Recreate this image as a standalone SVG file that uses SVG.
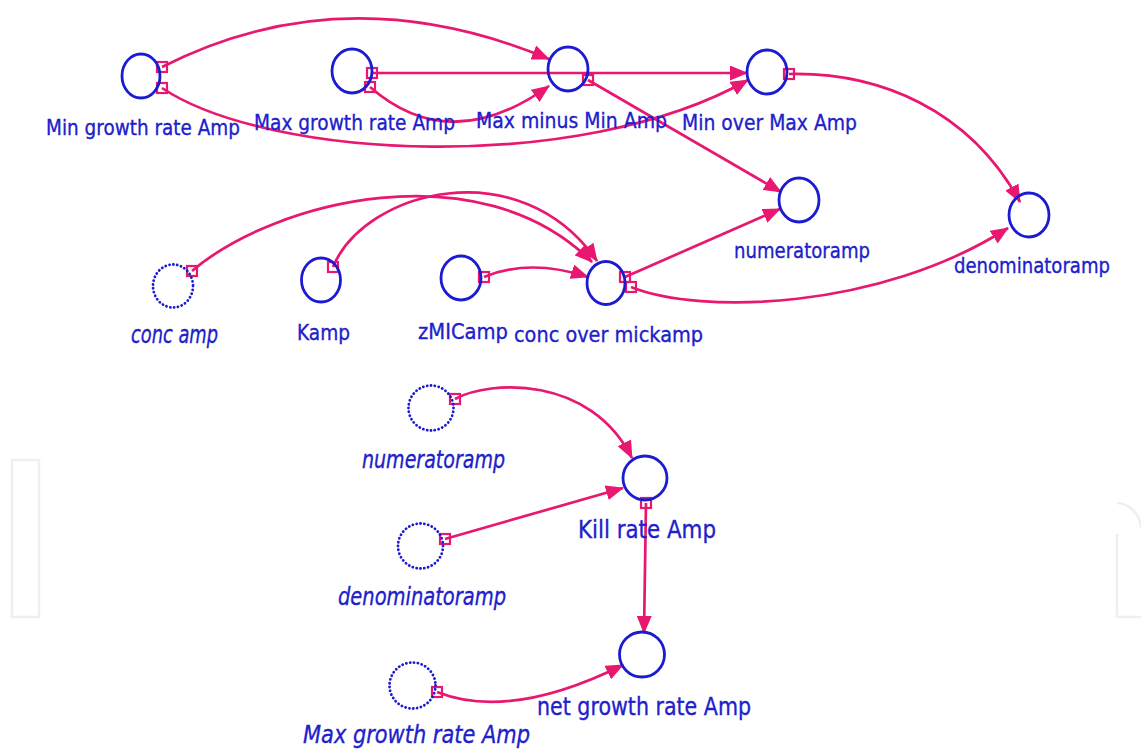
<svg xmlns="http://www.w3.org/2000/svg" width="1141" height="749" viewBox="0 0 1141 749">
<style>
.n{fill:none;stroke:#1b1bd2;stroke-width:2.8}
.g{fill:none;stroke:#1b1bd2;stroke-width:2.8;stroke-dasharray:0.1 3.8;stroke-linecap:round}
.lbl{font-family:"DejaVu Sans","Liberation Sans",sans-serif;fill:#2020cc;stroke:#2020cc;stroke-width:0.35;font-size:22px}
.big{font-size:24px}
.it{font-style:italic;font-size:24px}
.sm{font-size:20.5px}
.c{fill:none;stroke:#e8176f;stroke-width:2.7;marker-end:url(#ah)}
.sq{fill:none;stroke:#e8176f;stroke-width:2.2}
.wm{fill:none;stroke:#efefef;stroke-width:2.5}
</style>
<defs>
<marker id="ah" markerUnits="userSpaceOnUse" markerWidth="18" markerHeight="15" refX="17" refY="7.5" orient="auto">
<path d="M0,0 L18,7.5 L0,15 z" fill="#e8176f"/>
</marker>
</defs>
<rect width="1141" height="749" fill="#ffffff"/>
<g id="watermark">
<rect class="wm" x="12" y="460" width="27" height="157"/>
<path class="wm" d="M1117,503 A26,26 0 0 1 1141,528"/>
<path class="wm" d="M1117,534 V617 H1141"/>
</g>
<g id="connectors">
<path class="c" d="M162,67 Q345,-26 549,59"/>
<path class="c" d="M162,88 C270,160 580,175 748,80"/>
<path class="c" d="M372,73 L747,73"/>
<path class="c" d="M370,87 Q450,157 549,86"/>
<path class="c" d="M588,80 L781,192"/>
<path class="c" d="M789,74 C880,72 970,110 1020,202"/>
<path class="c" d="M192,271 C275,200 480,150 592,262"/>
<path class="c" d="M333,267 C365,190 520,150 597,261"/>
<path class="c" d="M484,277 Q530,258 588,277"/>
<path class="c" d="M625,277 L780,209"/>
<path class="c" d="M631,287 C700,315 880,310 1008,228"/>
<path class="c" d="M455,399 C490,380 590,375 632,458"/>
<path class="c" d="M445,539 L623,488"/>
<path class="c" d="M646,503 L644,633"/>
<path class="c" d="M437,692 Q510,721 623,665"/>
<rect class="sq" x="157" y="62" width="10" height="10"/>
<rect class="sq" x="157" y="83" width="10" height="10"/>
<rect class="sq" x="367" y="68" width="10" height="10"/>
<rect class="sq" x="365" y="82" width="10" height="10"/>
<rect class="sq" x="583" y="75" width="10" height="10"/>
<rect class="sq" x="784" y="69" width="10" height="10"/>
<rect class="sq" x="187" y="266" width="10" height="10"/>
<rect class="sq" x="328" y="262" width="10" height="10"/>
<rect class="sq" x="479" y="272" width="10" height="10"/>
<rect class="sq" x="620" y="272" width="10" height="10"/>
<rect class="sq" x="626" y="282" width="10" height="10"/>
<rect class="sq" x="450" y="394" width="10" height="10"/>
<rect class="sq" x="440" y="534" width="10" height="10"/>
<rect class="sq" x="641" y="498" width="10" height="10"/>
<rect class="sq" x="432" y="687" width="10" height="10"/>
</g>
<g id="min-growth-rate-amp">
<ellipse class="n" cx="141" cy="76" rx="19" ry="22"/>
<text class="lbl" x="46" y="135" textLength="194" lengthAdjust="spacingAndGlyphs">Min growth rate Amp</text>
</g>
<g id="max-growth-rate-amp">
<ellipse class="n" cx="352" cy="71" rx="20" ry="22"/>
<text class="lbl" x="254" y="130" textLength="201" lengthAdjust="spacingAndGlyphs">Max growth rate Amp</text>
</g>
<g id="max-minus-min-amp">
<ellipse class="n" cx="568" cy="69" rx="20" ry="22"/>
<text class="lbl" x="476" y="128" textLength="191" lengthAdjust="spacingAndGlyphs">Max minus Min Amp</text>
</g>
<g id="min-over-max-amp">
<ellipse class="n" cx="767" cy="72" rx="20" ry="22"/>
<text class="lbl" x="682" y="130" textLength="175" lengthAdjust="spacingAndGlyphs">Min over Max Amp</text>
</g>
<g id="numeratoramp">
<ellipse class="n" cx="799" cy="200" rx="20" ry="22"/>
<text class="lbl" x="734" y="258" textLength="136" lengthAdjust="spacingAndGlyphs">numeratoramp</text>
</g>
<g id="denominatoramp">
<ellipse class="n" cx="1029" cy="215" rx="20" ry="22"/>
<text class="lbl sm" x="954" y="273" textLength="156" lengthAdjust="spacingAndGlyphs">denominatoramp</text>
</g>
<g id="conc-amp">
<ellipse class="g" cx="173" cy="286" rx="20" ry="21.5"/>
<text class="lbl it" x="131" y="343" textLength="87" lengthAdjust="spacingAndGlyphs">conc amp</text>
</g>
<g id="kamp">
<ellipse class="n" cx="321" cy="280" rx="19.5" ry="22"/>
<text class="lbl" x="297" y="340" textLength="53" lengthAdjust="spacingAndGlyphs">Kamp</text>
</g>
<g id="zmicamp">
<ellipse class="n" cx="461" cy="278" rx="20" ry="22"/>
<text class="lbl" x="418" y="339" textLength="90" lengthAdjust="spacingAndGlyphs">zMICamp</text>
</g>
<g id="conc-over-mickamp">
<ellipse class="n" cx="606" cy="283" rx="19" ry="21.5"/>
<text class="lbl" x="514" y="342" textLength="189" lengthAdjust="spacingAndGlyphs">conc over mickamp</text>
</g>
<g id="numeratoramp-ghost">
<circle class="g" cx="431" cy="408" r="22.5"/>
<text class="lbl it" x="362" y="468" textLength="143" lengthAdjust="spacingAndGlyphs">numeratoramp</text>
</g>
<g id="kill-rate-amp">
<circle class="n" cx="645" cy="478" r="22"/>
<text class="lbl big" x="578" y="538" textLength="138" lengthAdjust="spacingAndGlyphs">Kill rate Amp</text>
</g>
<g id="denominatoramp-ghost">
<circle class="g" cx="420.5" cy="546" r="22.5"/>
<text class="lbl it" x="338" y="605" textLength="168" lengthAdjust="spacingAndGlyphs">denominatoramp</text>
</g>
<g id="net-growth-rate-amp">
<circle class="n" cx="642" cy="654.5" r="22.5"/>
<text class="lbl big" x="537" y="715" textLength="214" lengthAdjust="spacingAndGlyphs">net growth rate Amp</text>
</g>
<g id="max-growth-rate-amp-ghost">
<circle class="g" cx="412.5" cy="685.5" r="23"/>
<text class="lbl it" x="303" y="743" textLength="227" lengthAdjust="spacingAndGlyphs">Max growth rate Amp</text>
</g>
</svg>
